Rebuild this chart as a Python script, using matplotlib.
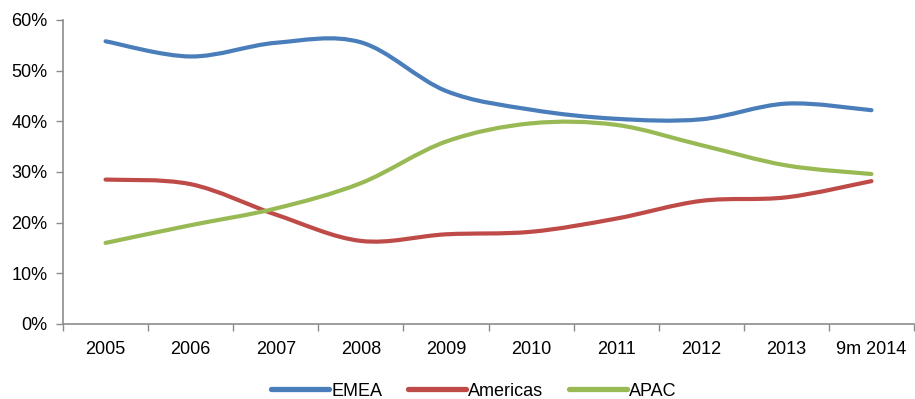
import numpy as np
import matplotlib
matplotlib.use('Agg')
import matplotlib.pyplot as plt
import matplotlib.ticker as mticker
from matplotlib.path import Path
from matplotlib.patches import PathPatch
from matplotlib.lines import Line2D

plt.rcParams['font.family'] = ['Liberation Sans', 'DejaVu Sans']

# ── Data ───────────────────────────────────────────────────────
years    = ['2005', '2006', '2007', '2008', '2009', '2010', '2011', '2012', '2013', '9m 2014']
emea     = [55.8, 52.8, 55.5, 55.6, 46.0, 42.3, 40.5, 40.4, 43.5, 42.2]
americas = [28.5, 27.6, 21.6, 16.4, 17.7, 18.2, 20.8, 24.3, 25.0, 28.2]
apac     = [16.0, 19.5, 22.8, 27.8, 36.0, 39.6, 39.3, 35.3, 31.3, 29.6]

series = [('EMEA', emea, '#4A7EBB'),
          ('Americas', americas, '#BE4B48'),
          ('APAC', apac, '#98B954')]

FS = 13


def smooth_path(x, y):
    # Excel-style smoothed line: cubic Bezier through every point
    p = np.column_stack([x, y]).astype(float)
    n = len(p)
    verts = [p[0]]
    codes = [Path.MOVETO]
    for i in range(n - 1):
        p0 = p[i - 1] if i > 0 else p[i]
        p3 = p[i + 2] if i + 2 < n else p[i + 1]
        c1 = p[i] + (p[i + 1] - p0) / 6
        c2 = p[i + 1] - (p3 - p[i]) / 6
        verts += [c1, c2, p[i + 1]]
        codes += [Path.CURVE4] * 3
    return Path(verts, codes)


fig = plt.figure(figsize=(9.15, 3.99), dpi=100)
ax = fig.add_axes([63 / 915, 75 / 399, 851 / 915, 304 / 399])

x = np.arange(len(years))
for name, vals, color in series:
    patch = PathPatch(smooth_path(x, vals), facecolor='none', edgecolor=color,
                      linewidth=3.0, capstyle='round', joinstyle='round')
    ax.add_patch(patch)

ax.set_xlim(-0.5, len(years) - 0.5)
ax.set_ylim(0, 60)
ax.yaxis.set_major_locator(mticker.MultipleLocator(10))
ax.yaxis.set_major_formatter(mticker.FuncFormatter(lambda v, _: f'{v:.0f}%'))

ax.set_xticks(x)
ax.set_xticklabels(years)
ax.set_xticks(np.arange(len(years) + 1) - 0.5, minor=True)
ax.tick_params(axis='x', which='major', length=0, pad=12, labelsize=FS)
ax.tick_params(axis='x', which='minor', length=5, width=1, color='#8C8C8C')
ax.tick_params(axis='y', length=5, width=1, color='#8C8C8C', labelsize=FS, pad=6)

for side in ['top', 'right']:
    ax.spines[side].set_visible(False)
for side in ['left', 'bottom']:
    ax.spines[side].set_color('#8C8C8C')
    ax.spines[side].set_linewidth(1.2)

handles = [Line2D([0], [0], color=c, linewidth=3.8, solid_capstyle='round')
           for _, _, c in series]
fig.legend(handles, [s[0] for s in series], loc='center', bbox_to_anchor=(0.518, 0.02),
           ncol=3, frameon=False, fontsize=FS, handlelength=3.2, handletextpad=0.15,
           columnspacing=1.4)

fig.savefig('out.png', dpi=100)
